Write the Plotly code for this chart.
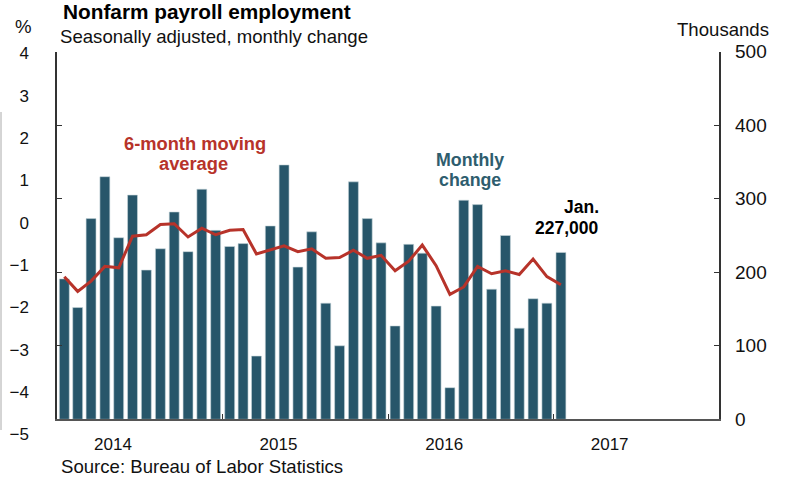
import plotly.graph_objects as go

# ---- data (thousands of jobs) ----
months = [f"{y}-{m:02d}-01" for y in (2014, 2015, 2016) for m in range(1, 13)] + ["2017-01-01"]
monthly_change = [191, 152, 273, 330, 247, 305, 203, 232, 282, 228, 313, 257,
                  235, 239, 86, 263, 346, 207, 255, 158, 100, 323, 273, 240,
                  127, 238, 226, 154, 43, 298, 292, 177, 250, 124, 164, 158, 227]
moving_avg = [194, 174, 188, 208, 206, 249, 251, 265, 266, 248, 260, 251,
              257, 258, 225, 231, 236, 228, 232, 219, 220, 230, 219, 223,
              202, 215, 237, 209, 170, 180, 208, 198, 202, 197, 218, 194, 183]
right_ticks = [0, 100, 200, 300, 400, 500]
pct_ticks = [-5, -4, -3, -2, -1, 0, 1, 2, 3, 4]
year_labels = ["2014", "2015", "2016", "2017"]
year_starts = ["2015-01-01", "2016-01-01", "2017-01-01"]

BAR = "#27566A"
RED = "#B7332A"
FONT = "Liberation Sans, Arial, sans-serif"
W, H = 788, 480


def px(x):
    return x / W


def py(y):
    return 1 - y / H


month_ms = 30.44 * 24 * 3600 * 1000

fig = go.Figure()
fig.add_trace(go.Bar(
    x=months, y=monthly_change, xperiod="M1", xperiodalignment="middle",
    width=0.72 * month_ms, marker=dict(color=BAR, line=dict(color="#c9d6dc", width=0.6)),
    yaxis="y", hoverinfo="skip"))
fig.add_trace(go.Scatter(
    x=months, y=moving_avg, xperiod="M1", xperiodalignment="middle",
    mode="lines", line=dict(color=RED, width=3), yaxis="y", hoverinfo="skip"))
# invisible trace that carries the % axis
fig.add_trace(go.Scatter(x=[months[0], months[-1]], y=[pct_ticks[0], pct_ticks[-1]],
                         yaxis="y2", mode="markers", marker=dict(opacity=0),
                         hoverinfo="skip", showlegend=False))

label_pos = [f"{y}-05-04" for y in year_labels]

fig.update_layout(
    template="none",
    width=W, height=H, margin=dict(l=0, r=0, t=0, b=0, autoexpand=False),
    paper_bgcolor="white", plot_bgcolor="rgba(0,0,0,0)", showlegend=False,
    font=dict(family=FONT, color="#111", size=18),
    xaxis=dict(domain=[px(57.3), px(719.3)], range=["2014-01-01", "2018-01-01"], type="date",
               tickvals=label_pos, ticktext=year_labels, ticks="", showgrid=False,
               showline=True, linecolor="#555", linewidth=2, automargin=False,
               tickfont=dict(size=17, color="#111"), ticklabelstandoff=8,
               minor=dict(tickvals=year_starts, ticks="inside", ticklen=5, tickcolor="#333",
                          tickwidth=1, showgrid=False),
               zeroline=False),
    yaxis=dict(domain=[py(419.3), py(51.7)], range=[0, 500], side="right",
               tickvals=right_ticks, ticks="inside", ticklen=5, tickcolor="#333",
               showline=True, linecolor="#333", linewidth=1.8, mirror="ticks",
               showgrid=False, zeroline=False, ticklabelstandoff=10, automargin=False,
               tickfont=dict(size=19, color="#111")),
    yaxis2=dict(domain=[py(434.5), py(53.5)], range=[-5, 4], anchor="free", position=px(29),
                side="left", tickvals=pct_ticks, ticks="", showline=False, showgrid=False,
                zeroline=False, tickfont=dict(size=17, color="#111"), ticklabelstandoff=0,
                automargin=False),
)

ann = [
    dict(text="<b>Nonfarm payroll employment</b>", x=px(61), y=py(11.3), xanchor="left",
         yanchor="middle", font=dict(size=20.8, color="#000")),
    dict(text="Seasonally adjusted, monthly change", x=px(57.5), y=py(36.4), xanchor="left",
         yanchor="middle", font=dict(size=18.6, color="#111")),
    dict(text="%", x=px(23), y=py(26), xanchor="center", yanchor="middle",
         font=dict(size=18.6, color="#111")),
    dict(text="Thousands", x=px(771), y=py(29.4), xanchor="right", yanchor="middle",
         font=dict(size=18.6, color="#111")),
    dict(text="<b>6-month moving</b>", x=px(195), y=py(143.5), xanchor="center",
         yanchor="middle", font=dict(size=18.3, color=RED)),
    dict(text="<b>average</b>", x=px(193), y=py(163), xanchor="center",
         yanchor="middle", font=dict(size=18.3, color=RED)),
    dict(text="<b>Monthly</b>", x=px(470), y=py(160), xanchor="center",
         yanchor="middle", font=dict(size=17.8, color="#2E5D6E")),
    dict(text="<b>change</b>", x=px(470), y=py(179.5), xanchor="center",
         yanchor="middle", font=dict(size=17.8, color="#2E5D6E")),
    dict(text="<b>Jan.</b>", x=px(601), y=py(207), xanchor="right", yanchor="middle",
         font=dict(size=17.5, color="#000")),
    dict(text="<b>227,000</b>", x=px(601), y=py(228), xanchor="right", yanchor="middle",
         font=dict(size=17.5, color="#000")),
    dict(text="Source: Bureau of Labor Statistics", x=px(58.5), y=py(466.4), xanchor="left",
         yanchor="middle", font=dict(size=18.6, color="#111")),
]
for a in ann:
    a.update(xref="paper", yref="paper", showarrow=False)
fig.update_layout(annotations=ann)

fig.add_shape(type="line", xref="paper", yref="paper", x0=px(1), x1=px(1),
              y0=py(112), y1=py(430), line=dict(color="#aaa", width=1))

# the browser's default 8px body margin would push the figure out of the window
fig.write_html("out.html", config={"displayModeBar": False},
               post_script="document.body.style.margin='0px';")
